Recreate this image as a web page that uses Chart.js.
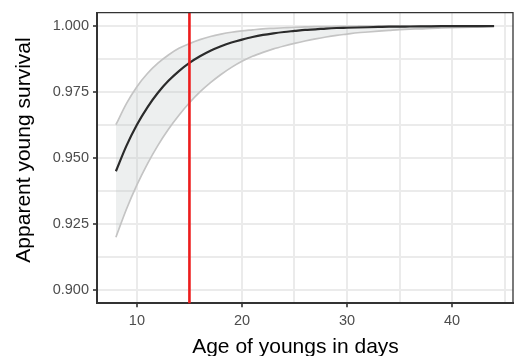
<!DOCTYPE html>
<html>
<head>
<meta charset="utf-8">
<script src="https://cdn.jsdelivr.net/npm/chart.js@4/dist/chart.umd.min.js"></script>
<style>
html,body{margin:0;padding:0;background:#ffffff;}
#wrap{width:514px;height:356px;}
canvas{display:block;}
</style>
</head>
<body>
<div id="wrap"><canvas id="c" width="514" height="356"></canvas></div>
<script>
// ---- data ----
const ages = [8,9,10,11,12,13,14,15,16,17,18,19,20,21,22,23,24,25,26,27,28,29,30,31,32,33,34,35,36,37,38,39,40,41,42,43,44];
const survivalMean = [0.9450,0.9546,0.9626,0.9692,0.9747,0.9792,0.9829,0.9860,0.9885,0.9906,0.9923,0.9937,0.9948,0.9958,0.9966,0.9972,0.9977,0.9981,0.9985,0.9987,0.9990,0.9992,0.9993,0.9994,0.9995,0.9996,0.9997,0.99973,0.99978,0.99982,0.99986,0.99989,0.99991,0.99992,0.99994,0.99995,0.99996];
const survivalUpper = [0.9626,0.9706,0.9770,0.9820,0.9859,0.9890,0.9915,0.9933,0.9948,0.9960,0.9969,0.9976,0.9981,0.9985,0.9989,0.9991,0.9993,0.9995,0.9996,0.9997,0.99975,0.9998,0.99985,0.99988,0.99991,0.99993,0.99994,0.99996,0.99997,0.99997,0.99998,0.99998,0.99999,0.99999,0.99999,0.99999,1.0000];
const survivalLower = [0.9200,0.9306,0.9398,0.9478,0.9548,0.9609,0.9662,0.9709,0.9750,0.9785,0.9816,0.9843,0.9866,0.9885,0.9900,0.9913,0.9924,0.9934,0.9943,0.9951,0.9958,0.9964,0.9969,0.9974,0.9977,0.9980,0.9983,0.9986,0.9988,0.9989,0.9991,0.9992,0.9993,0.9994,0.9995,0.9996,0.9996];
const referenceAge = 15;
const xMajorTicks = [10,20,30,40];
const xMinorTicks = [15,25,35,45];
const xTickLabels = ['10','20','30','40'];
const yMajorTicks = [0.900,0.925,0.950,0.975,1.000];
const yMinorTicks = [0.9125,0.9375,0.9625,0.9875];
const yTickLabels = ['0.900','0.925','0.950','0.975','1.000'];
const xTitle = 'Age of youngs in days';
const yTitle = 'Apparent young survival';

// ---- helpers ----
const near = (a,b) => Math.abs(a-b) < 1e-7;
const isMajor = (list, v) => list.some(t => near(t, v));
const toPoints = ys => ages.map((a,i) => ({x:a, y:ys[i]}));
const FONT = '"Liberation Sans", Arial, Helvetica, sans-serif';

const decorPlugin = {
  id: 'decor',
  afterDatasetsDraw(chart) {
    const {ctx, chartArea:a, scales} = chart;
    const xp = scales.x.getPixelForValue(referenceAge);
    ctx.save();
    ctx.strokeStyle = 'rgb(238,28,28)';
    ctx.lineWidth = 2.6;
    ctx.beginPath();
    ctx.moveTo(xp, a.top);
    ctx.lineTo(xp, a.bottom);
    ctx.stroke();
    ctx.restore();
  },
  afterDraw(chart) {
    const {ctx, chartArea:a} = chart;
    ctx.save();
    ctx.strokeStyle = '#333333';
    ctx.lineWidth = 1.3;
    ctx.beginPath();
    ctx.moveTo(a.left, a.top);
    ctx.lineTo(a.right, a.top);
    ctx.lineTo(a.right, a.bottom);
    ctx.stroke();
    // axis titles
    ctx.fillStyle = '#000000';
    ctx.font = '21px ' + FONT;
    ctx.textAlign = 'center';
    ctx.textBaseline = 'alphabetic';
    const cx = (a.left + a.right) / 2 - 9.5;
    ctx.fillText(xTitle, cx, a.bottom + 50);
    const cy = (a.top + a.bottom) / 2 - 8;
    ctx.translate(a.left - 67, cy);
    ctx.rotate(-Math.PI/2);
    ctx.fillText(yTitle, 0, 0);
    ctx.restore();
  }
};

new Chart(document.getElementById('c'), {
  type: 'line',
  data: {
    datasets: [
      { label:'mean', data: toPoints(survivalMean), borderColor:'#2b2b2b', borderWidth:2.2, pointRadius:0, fill:false, order:0, cubicInterpolationMode:'monotone' },
      { label:'upper', data: toPoints(survivalUpper), borderColor:'#c4c4c4', borderWidth:1.7, pointRadius:0, fill:'+1', backgroundColor:'rgba(178,188,188,0.24)', order:1, cubicInterpolationMode:'monotone' },
      { label:'lower', data: toPoints(survivalLower), borderColor:'#c4c4c4', borderWidth:1.7, pointRadius:0, fill:false, order:2, cubicInterpolationMode:'monotone' }
    ]
  },
  options: {
    responsive: false,
    animation: false,
    devicePixelRatio: 1,
    layout: { padding: { top: 10.7, right: 1, bottom: 0, left: 0 } },
    plugins: {
      legend: { display: false },
      tooltip: { enabled: false },
      filler: { drawTime: 'beforeDatasetsDraw' }
    },
    scales: {
      x: {
        type: 'linear',
        min: 6.2, max: 45.8,
        afterFit(s) { s.height = 52.7; },
        afterBuildTicks(s) { s.ticks = xMajorTicks.concat(xMinorTicks).sort((p,q)=>p-q).map(v => ({value:v})); },
        ticks: {
          autoSkip: false, maxRotation: 0, padding: 5,
          color: '#4d4d4d', font: { family: FONT, size: 14.5 },
          callback: (v) => { const i = xMajorTicks.findIndex(t => near(t, v)); return i >= 0 ? xTickLabels[i] : ''; }
        },
        grid: {
          color: '#ebebeb', lineWidth: 2, tickLength: 4, tickWidth: 1.6,
          tickColor: (c) => (c.tick && isMajor(xMajorTicks, c.tick.value)) ? '#333333' : 'rgba(0,0,0,0)'
        },
        border: { color: '#333333', width: 2 }
      },
      y: {
        type: 'linear',
        min: 0.895, max: 1.005,
        afterFit(s) { s.width = 97; },
        afterBuildTicks(s) { s.ticks = yMajorTicks.concat(yMinorTicks).sort((p,q)=>p-q).map(v => ({value:v})); },
        ticks: {
          autoSkip: false, padding: 4,
          color: '#4d4d4d', font: { family: FONT, size: 14.5 },
          callback: (v) => { const i = yMajorTicks.findIndex(t => near(t, v)); return i >= 0 ? yTickLabels[i] : ''; }
        },
        grid: {
          color: '#ebebeb', lineWidth: 2, tickLength: 4, tickWidth: 1.6,
          tickColor: (c) => (c.tick && isMajor(yMajorTicks, c.tick.value)) ? '#333333' : 'rgba(0,0,0,0)'
        },
        border: { color: '#333333', width: 2 }
      }
    }
  },
  plugins: [decorPlugin]
});
</script>
</body>
</html>
